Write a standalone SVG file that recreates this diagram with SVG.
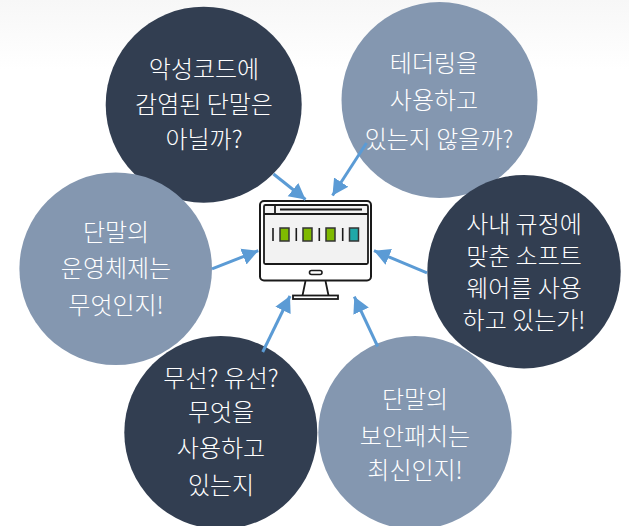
<svg xmlns="http://www.w3.org/2000/svg" width="629" height="526" viewBox="0 0 629 526">
<defs>
<marker id="ah" markerUnits="userSpaceOnUse" markerWidth="18" markerHeight="20" refX="16" refY="10" orient="auto"><path d="M0 1.500L16 10L0 18.500Z" fill="#5b9bd5"/></marker>
<linearGradient id="bg" x1="0" y1="0" x2="0" y2="1"><stop offset="0" stop-color="#f7f7f7"/><stop offset="1" stop-color="#fff"/></linearGradient>
</defs>
<style>
text{font-family:"Noto Sans CJK KR","Noto Sans",sans-serif;font-size:24px;font-weight:300;fill:#fff;text-anchor:middle}
.d{fill:#323e51}.l{fill:#8497b0}
.c{stroke:#5b9bd5;stroke-width:3;fill:none;marker-end:url(#ah)}
</style>
<rect width="629" height="526" fill="#fff"/>
<rect width="629" height="70" fill="url(#bg)"/>
<g id="monitor" fill="none" stroke="#1a1a1a" stroke-width="2">
<rect x="260" y="201" width="111" height="79.500" rx="4" fill="#fff"/>
<rect x="264" y="205" width="104" height="59" rx="1.500" fill="#f2f2f2" stroke-width="1.800"/>
<line x1="264" y1="214" x2="368" y2="214" stroke-width="1.800"/>
<line x1="275" y1="205" x2="275" y2="214" stroke-width="1.800"/>
<line x1="280" y1="209.500" x2="362" y2="209.500" stroke-width="1.800"/>
<rect x="309.500" y="270.500" width="12.500" height="4" rx="2" stroke-width="1.600"/>
<path d="M305.500 281L302.500 295.500M325.500 281L328.500 295.500" stroke-width="1.800"/>
<rect x="293" y="295.500" width="45" height="3.500" fill="#fff" stroke-width="1.800"/>
<g stroke="#333" stroke-width="1.500">
<rect x="280" y="228" width="9" height="13" fill="#7fba00"/>
<rect x="303" y="228" width="9" height="13" fill="#7fba00"/>
<rect x="326" y="228" width="9" height="13" fill="#7fba00"/>
<rect x="349.500" y="228" width="9" height="13" fill="#1fa8a8"/>
</g>
<g stroke-width="1.600">
<line x1="273" y1="228" x2="273" y2="241"/><line x1="296.300" y1="228" x2="296.300" y2="241"/><line x1="319.300" y1="228" x2="319.300" y2="241"/><line x1="342.700" y1="228" x2="342.700" y2="241"/>
</g>
</g>
<g id="n1"><circle class="d" cx="203.700" cy="104.700" r="98"/><text x="204" y="78">악성코드에</text><text x="204" y="113">감염된 단말은</text><text x="204" y="148">아닐까?</text></g>
<g id="n2"><circle class="l" cx="439.500" cy="100" r="98"/><text x="434" y="72">테더링을</text><text x="434" y="109">사용하고</text><text x="439" y="148">있는지 않을까?</text></g>
<g id="n3"><circle class="d" cx="524" cy="271.700" r="96.700"/><text x="524" y="233">사내 규정에</text><text x="524" y="265">맞춘 소프트</text><text x="524" y="297">웨어를 사용</text><text x="524" y="329">하고 있는가!</text></g>
<g id="n4"><circle class="l" cx="415" cy="432.700" r="96.700"/><text x="415" y="408">단말의</text><text x="415" y="445">보안패치는</text><text x="415" y="479">최신인지!</text></g>
<g id="n5"><circle class="d" cx="220.800" cy="432.500" r="96.500"/><text x="221" y="387">무선? 유선?</text><text x="221" y="421">무엇을</text><text x="221" y="457">사용하고</text><text x="221" y="494">있는지</text></g>
<g id="n6"><circle class="l" cx="115.700" cy="268.800" r="96.300"/><text x="116" y="241">단말의</text><text x="116" y="277">운영체제는</text><text x="116" y="314">무엇인지!</text></g>
<g id="connectors">
<line class="c" x1="273.500" y1="174" x2="305.500" y2="199.500"/>
<line class="c" x1="366.500" y1="143" x2="332.500" y2="195.500"/>
<line class="c" x1="427" y1="272.800" x2="374" y2="250.700"/>
<line class="c" x1="377.700" y1="346.500" x2="354.300" y2="296.700"/>
<line class="c" x1="262.700" y1="352" x2="290" y2="296"/>
<line class="c" x1="212" y1="268.900" x2="258.300" y2="250.700"/>
</g>
</svg>
